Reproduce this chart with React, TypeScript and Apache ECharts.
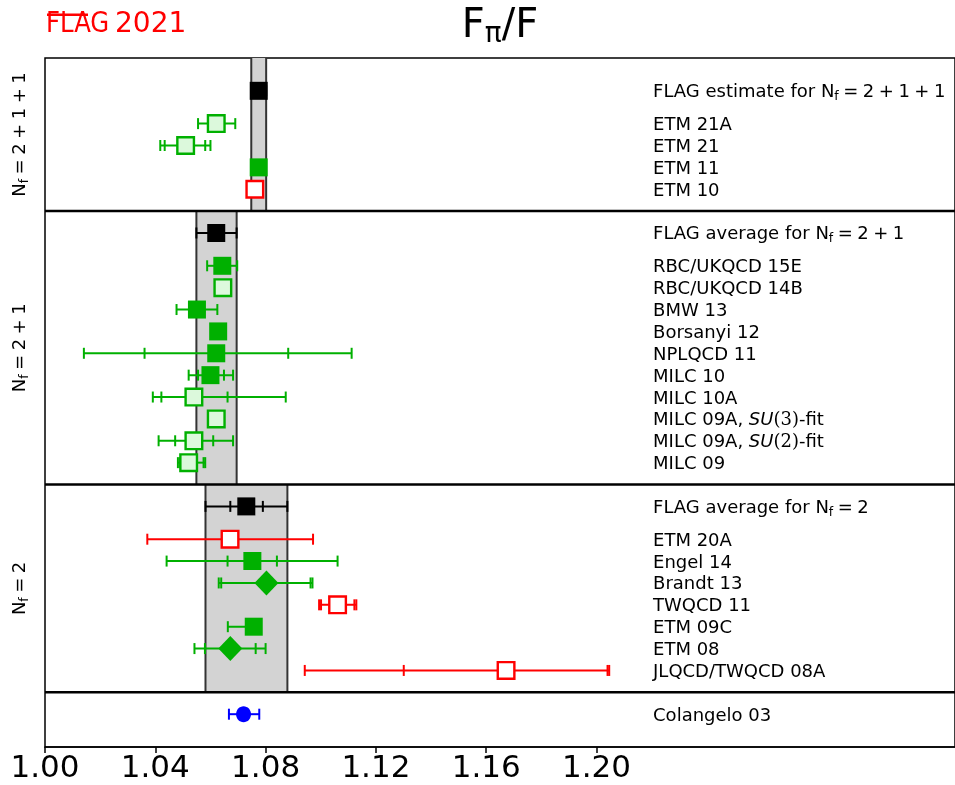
import React, { useEffect, useRef } from "react";
import * as echarts from "echarts";

// ---- data ----
const labels = [
  "FLAG estimate for N_f=2+1+1", "ETM 21A", "ETM 21", "ETM 11", "ETM 10",
  "FLAG average for N_f=2+1", "RBC/UKQCD 15E", "RBC/UKQCD 14B", "BMW 13", "Borsanyi 12", "NPLQCD 11",
  "MILC 10", "MILC 10A", "MILC 09A, SU(3)-fit", "MILC 09A, SU(2)-fit", "MILC 09",
  "FLAG average for N_f=2", "ETM 20A", "Engel 14", "Brandt 13", "TWQCD 11", "ETM 09C", "ETM 08", "JLQCD/TWQCD 08A",
  "Colangelo 03",
];
const rowY = [1.5, 3, 4, 5, 6, 8, 9.5, 10.5, 11.5, 12.5, 13.5, 14.5, 15.5, 16.5, 17.5, 18.5, 20.5, 22, 23, 24, 25, 26, 27, 28, 30];
const values = [1.0775, 1.0621, 1.051, 1.0775, 1.0761, 1.0621, 1.0643, 1.0645, 1.0551, 1.0628, 1.0621, 1.06, 1.054, 1.0621, 1.054, 1.0521, 1.073, 1.0671, 1.0752, 1.0803, 1.1061, 1.0757, 1.0672, 1.1672, 1.072];
const statLo = [1.0748, 1.0555, 1.0434, 1.076, 1.075, 1.0549, 1.0588, 1.0635, 1.0477, 1.0618, 1.0361, 1.0555, 1.0422, 1.0611, 1.0472, 1.049, 1.0672, 1.0371, 1.0662, 1.0639, 1.1001, 1.0663, 1.058, 1.1301, 1.0667];
const statHi = [1.0802, 1.069, 1.0581, 1.079, 1.0772, 1.0695, 1.0697, 1.0655, 1.0625, 1.0638, 1.0882, 1.0649, 1.0662, 1.0631, 1.061, 1.0575, 1.079, 1.0972, 1.0841, 1.0963, 1.1122, 1.078, 1.0764, 1.204, 1.0777];
const totLo = [1.0748, 1.0555, 1.0418, 1.076, 1.075, 1.0549, 1.0588, 1.0635, 1.0477, 1.0618, 1.0141, 1.0521, 1.0391, 1.0611, 1.0412, 1.0482, 1.0582, 1.0371, 1.0441, 1.063, 1.0994, 1.0663, 1.0542, 1.0942, 1.0667];
const totHi = [1.0802, 1.069, 1.06, 1.079, 1.0772, 1.0695, 1.0697, 1.0655, 1.0625, 1.0638, 1.1112, 1.0682, 1.0873, 1.0631, 1.0682, 1.0581, 1.0879, 1.0972, 1.1061, 1.097, 1.1129, 1.078, 1.08, 1.2046, 1.0777];
const markerKinds = ["flag", "open", "open", "fill", "red", "flag", "fill", "open", "fill", "fill", "fill", "fill", "open", "open", "open", "open", "flag", "red", "fill", "diamond", "red", "fill", "diamond", "red", "circle"];

const bandLo = [1.0748, 1.0549, 1.0582];
const bandHi = [1.0802, 1.0695, 1.0879];
const bandTop = [0, 7, 19.5];
const bandBottom = [7, 19.5, 29];
const sectionNames = ["2+1+1", "2+1", "2"];
const separators = [7, 19.5, 29];
const xTicks = [1.0, 1.04, 1.08, 1.12, 1.16, 1.2];

const X_MIN = 1.0;
const X_MAX = 1.33;
const Y_MAX = 31.5;
const LABEL_X = 1.2205;

const GREEN = "#00b000";
const LIGHT = "#dcf9dc";
const RED = "#ff0000";
const BLUE = "#0000ff";
const FONT = "DejaVu Sans";

const sp = "\u2005";
function nfRich(expr: string) {
  return expr.split("").join(sp);
}

function labelText(s: string) {
  const m = s.match(/^(.*)N_f=(.*)$/);
  if (m) {
    return `{t|${m[1]}N}{s|f}{t|${sp}=${sp}${nfRich(m[2])}}`;
  }
  const su = s.match(/^(.*)SU\((\d)\)(.*)$/);
  if (su) {
    return `{t|${su[1]}}{i|SU}{m|(${su[2]})}{t|${su[3]}}`;
  }
  return `{t|${s}}`;
}

const richStyles = {
  t: { fontSize: 18, fontFamily: FONT, fill: "#000" },
  s: { fontSize: 12.5, fontFamily: FONT, fill: "#000", padding: [10, 0, 0, 0] },
  i: { fontSize: 18, fontFamily: FONT, fontStyle: "italic", fill: "#000" },
  m: { fontSize: 18, fontFamily: "DejaVu Serif", fill: "#000" },
};

function colorOf(kind: string) {
  if (kind === "flag") return "#000";
  if (kind === "red") return RED;
  if (kind === "circle") return BLUE;
  return GREEN;
}

export default function App() {
  const ref = useRef<HTMLDivElement>(null);
  useEffect(() => {
    if (!ref.current) return;
    const chart = echarts.init(ref.current, null, { renderer: "svg" });

    const pointData = values.map((v, i) => [v, rowY[i], statLo[i], statHi[i], totLo[i], totHi[i]]);
    const bandData = bandLo.map((lo, i) => [lo, bandHi[i], bandTop[i], bandBottom[i]]);
    const sepData = separators.map((y) => [X_MIN, y]);

    const option: any = {
      animation: false,
      grid: { left: 45, right: 0, top: 58, bottom: 38, show: true, borderColor: "#000", borderWidth: 1.5, backgroundColor: "transparent" },
      xAxis: {
        type: "value",
        min: X_MIN,
        max: X_MAX,
        position: "bottom",
        axisLine: { show: true, onZero: false, lineStyle: { color: "#000", width: 1.5 } },
        axisTick: { show: true, length: 6, customValues: xTicks, lineStyle: { color: "#000", width: 1.5 } },
        axisLabel: { customValues: xTicks, formatter: (v: number) => v.toFixed(2), fontSize: 31, color: "#000", fontFamily: FONT, margin: 3 },
        splitLine: { show: false },
      },
      yAxis: { type: "value", min: 0, max: Y_MAX, inverse: true, show: false },
      graphic: [
        { type: "text", x: 46, y: 8, scaleX: 0.87, style: { text: "FLAG", fontSize: 28, fontFamily: FONT, fill: RED, verticalAlign: "top" } },
        { type: "line", shape: { x1: 47, y1: 14.8, x2: 88, y2: 14.8 }, style: { stroke: RED, lineWidth: 2.5 } },
        { type: "text", x: 115, y: 8, style: { text: "2021", fontSize: 28, fontFamily: FONT, fill: RED, verticalAlign: "top" } },
        {
          type: "text",
          x: 500,
          y: 23,
          style: {
            text: "{a|F}{s|π}{a|/F}",
            align: "center",
            verticalAlign: "middle",
            rich: {
              a: { fontSize: 40, fontFamily: FONT, fill: "#000" },
              s: { fontSize: 28, fontFamily: FONT, fill: "#000", padding: [18, 0, 0, 0] },
            },
          },
        },
      ],
      series: [
        {
          type: "custom",
          name: "bands",
          data: bandData,
          z: 1,
          renderItem: (params: any, api: any) => {
            const i = params.dataIndex;
            const lo = api.value(0), hi = api.value(1), top = api.value(2), bot = api.value(3);
            const p1 = api.coord([lo, top]);
            const p2 = api.coord([hi, bot]);
            const axisLeft = api.coord([X_MIN, (top + bot) / 2]);
            return {
              type: "group",
              children: [
                { type: "rect", shape: { x: p1[0], y: p1[1], width: p2[0] - p1[0], height: p2[1] - p1[1] }, style: { fill: "#d3d3d3" } },
                { type: "line", shape: { x1: p1[0], y1: p1[1], x2: p1[0], y2: p2[1] }, style: { stroke: "#333", lineWidth: 2 } },
                { type: "line", shape: { x1: p2[0], y1: p1[1], x2: p2[0], y2: p2[1] }, style: { stroke: "#333", lineWidth: 2 } },
                {
                  type: "text",
                  x: axisLeft[0] - 27,
                  y: axisLeft[1],
                  rotation: Math.PI / 2,
                  style: {
                    text: `{t|N}{s|f}{t|${sp}=${sp}${nfRich(sectionNames[i])}}`,
                    align: "center",
                    verticalAlign: "middle",
                    rich: richStyles,
                  },
                },
              ],
            };
          },
        },
        {
          type: "custom",
          name: "separators",
          data: sepData,
          z: 2,
          renderItem: (params: any, api: any) => {
            const y = api.value(1);
            const a = api.coord([X_MIN, y]);
            const b = api.coord([X_MAX, y]);
            return { type: "line", shape: { x1: a[0], y1: a[1], x2: b[0], y2: b[1] }, style: { stroke: "#000", lineWidth: 2.5 } };
          },
        },
        {
          type: "custom",
          name: "results",
          data: pointData,
          z: 3,
          renderItem: (params: any, api: any) => {
            const i = params.dataIndex;
            const kind = markerKinds[i];
            const col = colorOf(kind);
            const y = api.value(1);
            const c = api.coord([api.value(0), y]);
            const sL = api.coord([api.value(2), y])[0];
            const sH = api.coord([api.value(3), y])[0];
            const tL = api.coord([api.value(4), y])[0];
            const tH = api.coord([api.value(5), y])[0];
            const cy = c[1];
            const capH = 5.5;
            const children: any[] = [];
            const ls = { stroke: col, lineWidth: 2 };
            children.push({ type: "line", shape: { x1: tL, y1: cy, x2: tH, y2: cy }, style: ls });
            const caps = [tL, tH];
            if (Math.abs(sL - tL) > 1) caps.push(sL);
            if (Math.abs(sH - tH) > 1) caps.push(sH);
            caps.forEach((x) => children.push({ type: "line", shape: { x1: x, y1: cy - capH, x2: x, y2: cy + capH }, style: ls }));
            if (kind === "flag" || kind === "fill") {
              children.push({ type: "rect", shape: { x: c[0] - 9, y: cy - 9, width: 18, height: 18 }, style: { fill: col } });
            } else if (kind === "open") {
              children.push({ type: "rect", shape: { x: c[0] - 8.3, y: cy - 8.3, width: 16.6, height: 16.6 }, style: { fill: LIGHT, stroke: GREEN, lineWidth: 2.4 } });
            } else if (kind === "red") {
              children.push({ type: "rect", shape: { x: c[0] - 8.3, y: cy - 8.3, width: 16.6, height: 16.6 }, style: { fill: "#fff", stroke: RED, lineWidth: 2.4 } });
            } else if (kind === "diamond") {
              children.push({ type: "polygon", shape: { points: [[c[0], cy - 12.5], [c[0] + 12, cy], [c[0], cy + 12.5], [c[0] - 12, cy]] }, style: { fill: GREEN } });
            } else if (kind === "circle") {
              children.push({ type: "ellipse", shape: { cx: c[0], cy: cy, rx: 7.5, ry: 8 }, style: { fill: BLUE } });
            }
            const lp = api.coord([LABEL_X, y]);
            children.push({
              type: "text",
              x: lp[0],
              y: lp[1],
              style: { text: labelText(labels[i]), align: "left", verticalAlign: "middle", rich: richStyles },
            });
            return { type: "group", children };
          },
        },
      ],
    };
    chart.setOption(option);
    return () => chart.dispose();
  }, []);
  return <div ref={ref} style={{ position: "fixed", left: 0, top: 0, width: 955, height: 785 }} />;
}
